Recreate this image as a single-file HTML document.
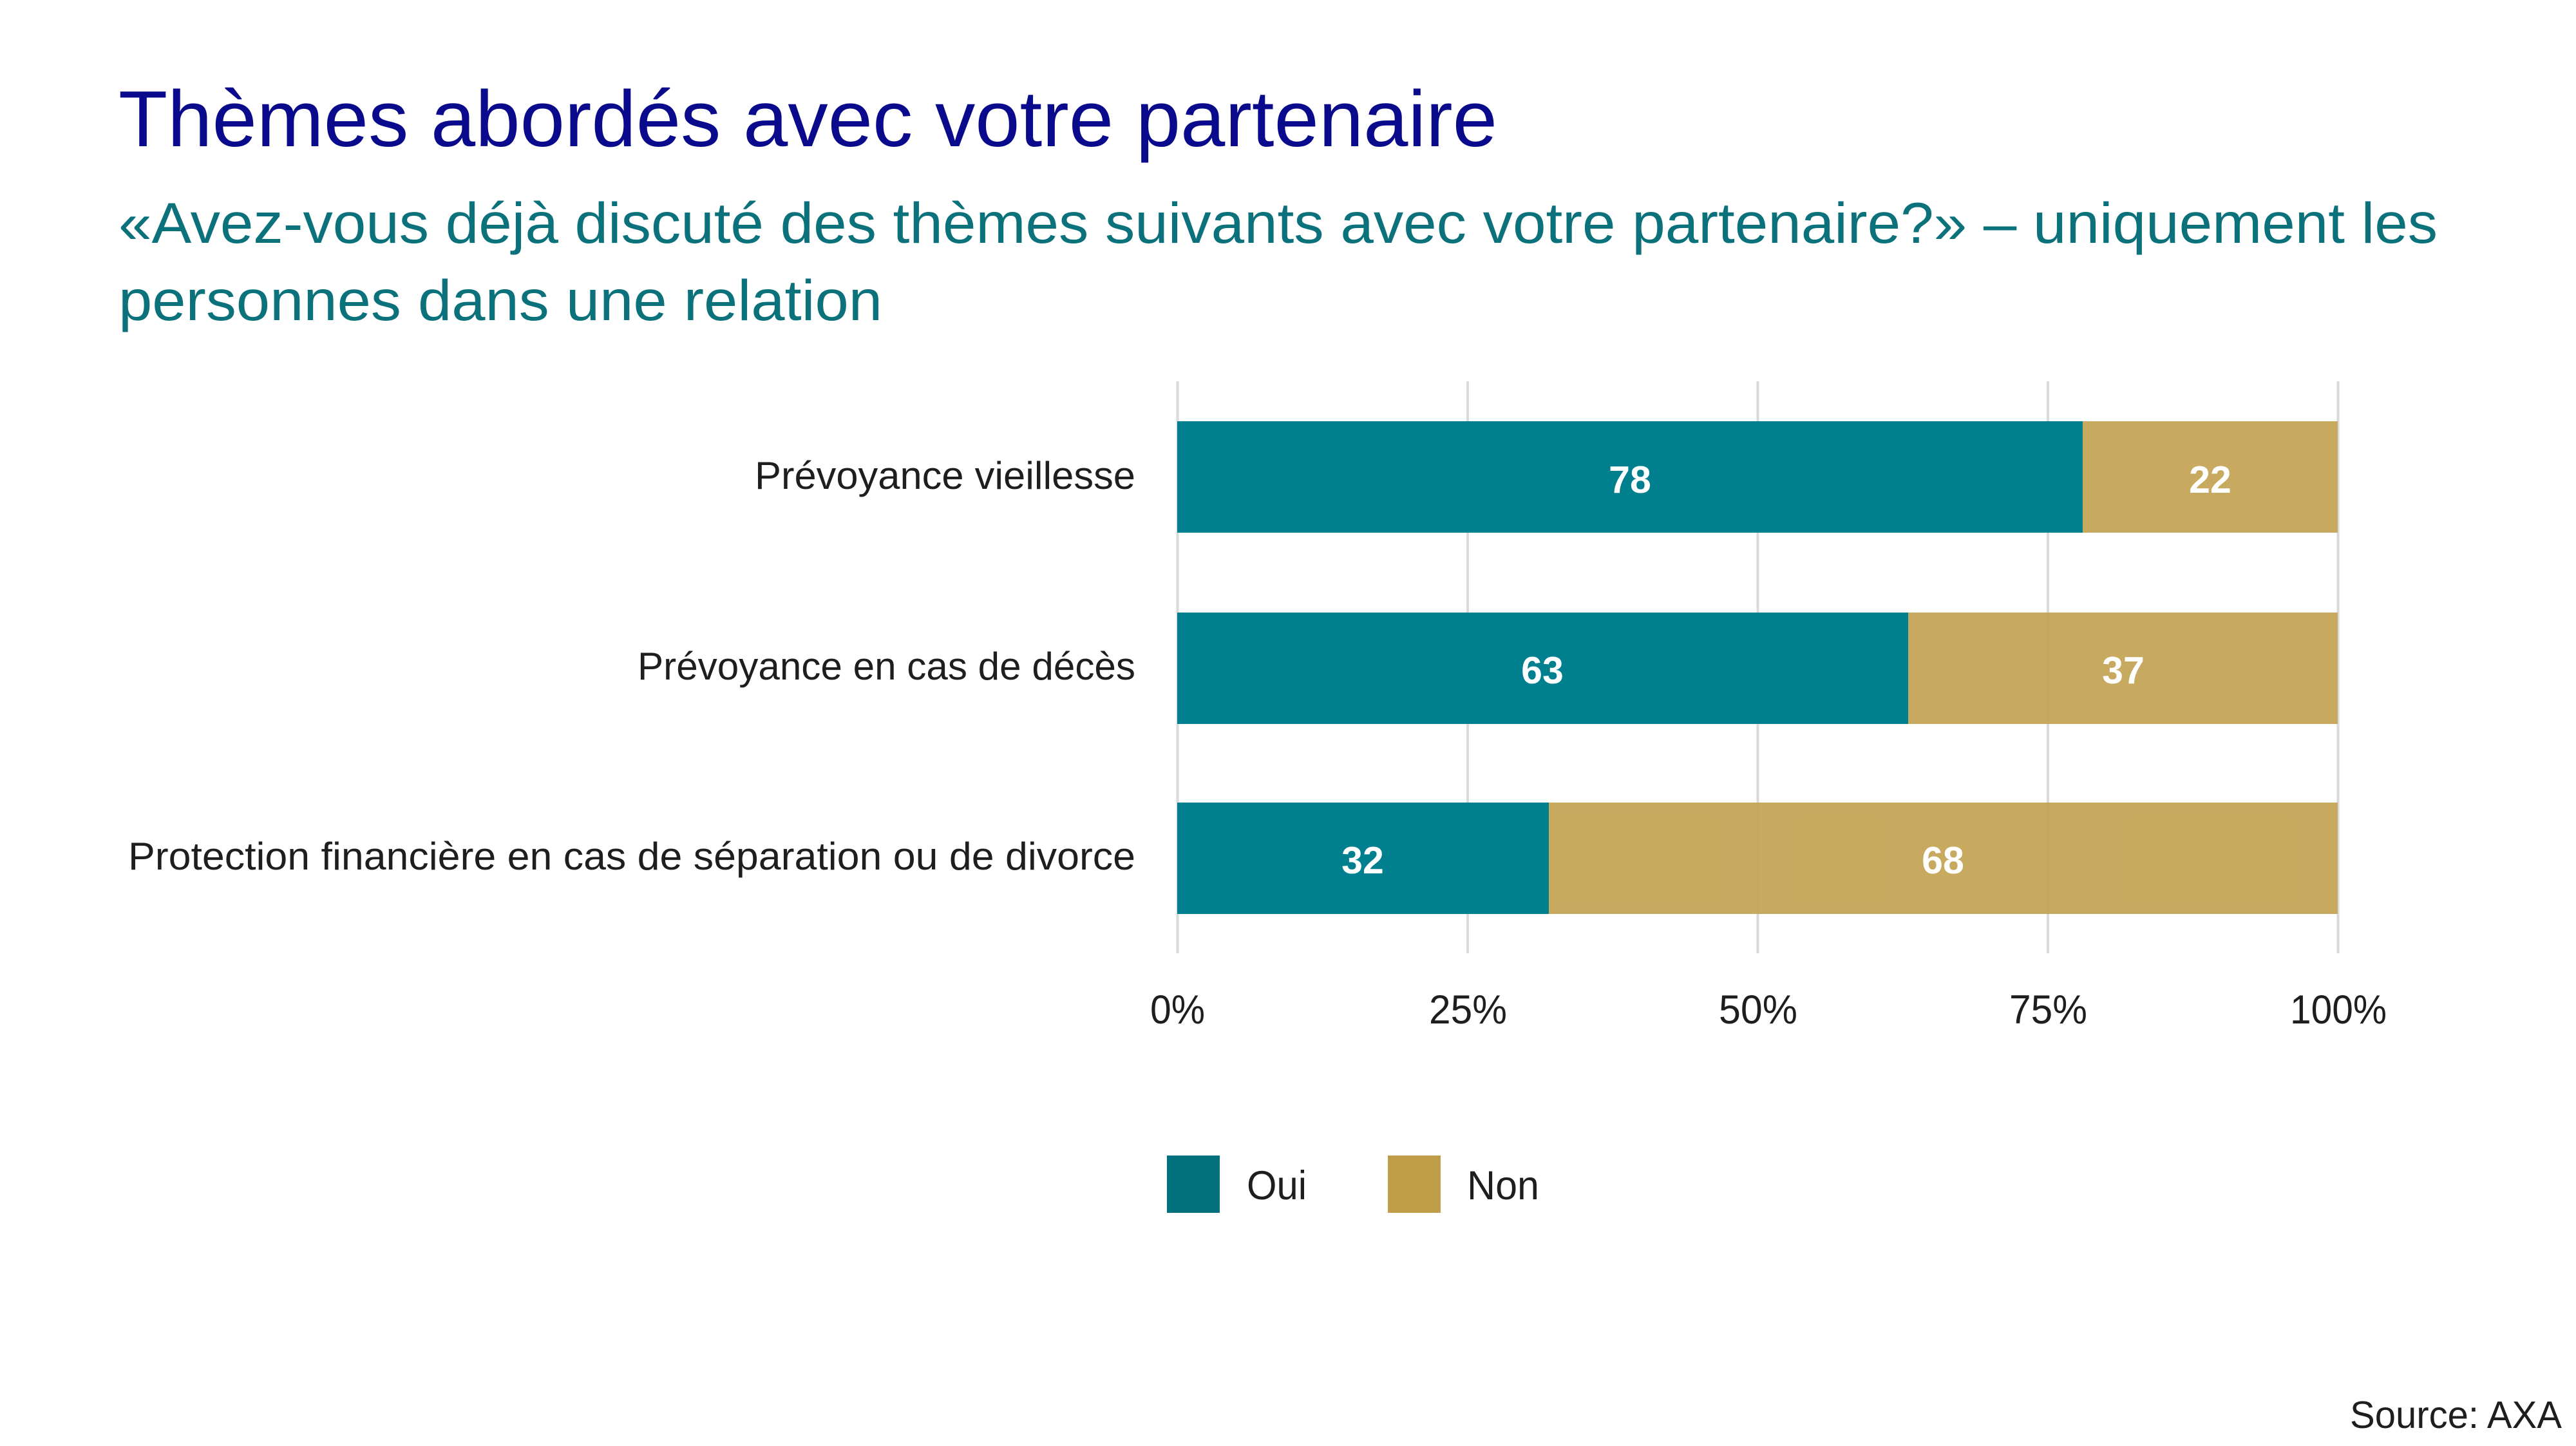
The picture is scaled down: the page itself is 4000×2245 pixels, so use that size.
<!DOCTYPE html>
<html>
<head>
<meta charset="utf-8">
<style>
  html, body { margin: 0; padding: 0; background: #ffffff; }
  svg { display: block; }
  text { font-family: "Liberation Sans", "DejaVu Sans", sans-serif; }
</style>
</head>
<body>
<svg width="4000" height="2245" viewBox="0 0 4000 2245" xmlns="http://www.w3.org/2000/svg">
  <rect x="0" y="0" width="4000" height="2245" fill="#ffffff"/>

  <!-- Title -->
  <text x="184" y="227" font-size="123" fill="#0a0a8c" textLength="2141" lengthAdjust="spacingAndGlyphs">Thèmes abordés avec votre partenaire</text>

  <!-- Subtitle -->
  <text x="184" y="377" font-size="89" fill="#0b717b" textLength="3601" lengthAdjust="spacingAndGlyphs">«Avez-vous déjà discuté des thèmes suivants avec votre partenaire?» – uniquement les</text>
  <text x="184" y="497" font-size="89" fill="#0b717b" textLength="1186" lengthAdjust="spacingAndGlyphs">personnes dans une relation</text>

  <!-- Grid lines -->
  <g stroke="#dadada" stroke-width="4">
    <line x1="1828.5" y1="592" x2="1828.5" y2="1480"/>
    <line x1="2279" y1="592" x2="2279" y2="1480"/>
    <line x1="2729.5" y1="592" x2="2729.5" y2="1480"/>
    <line x1="3180" y1="592" x2="3180" y2="1480"/>
    <line x1="3630.5" y1="592" x2="3630.5" y2="1480"/>
  </g>

  <!-- Bars row 1 -->
  <rect x="1828" y="654" width="1406" height="173" fill="#00808f"/>
  <rect x="3234" y="654" width="396" height="173" fill="#c4a556" fill-opacity="0.95"/>
  <!-- Bars row 2 -->
  <rect x="1828" y="951" width="1135" height="173" fill="#00808f"/>
  <rect x="2963" y="951" width="667" height="173" fill="#c4a556" fill-opacity="0.95"/>
  <!-- Bars row 3 -->
  <rect x="1828" y="1246" width="577" height="173" fill="#00808f"/>
  <rect x="2405" y="1246" width="1225" height="173" fill="#c4a556" fill-opacity="0.95"/>

  <!-- Value labels -->
  <g font-size="59" font-weight="bold" fill="#ffffff" text-anchor="middle">
    <text x="2531" y="765">78</text>
    <text x="3432" y="765">22</text>
    <text x="2395" y="1061">63</text>
    <text x="3297" y="1061">37</text>
    <text x="2116" y="1356">32</text>
    <text x="3017" y="1356">68</text>
  </g>

  <!-- Category labels -->
  <g font-size="60" fill="#1e1e1e">
    <text x="1172" y="759" textLength="591" lengthAdjust="spacingAndGlyphs">Prévoyance vieillesse</text>
    <text x="990" y="1055" textLength="773" lengthAdjust="spacingAndGlyphs">Prévoyance en cas de décès</text>
    <text x="199" y="1350" textLength="1564" lengthAdjust="spacingAndGlyphs">Protection financière en cas de séparation ou de divorce</text>
  </g>

  <!-- Tick labels -->
  <g font-size="63" fill="#1e1e1e">
    <text x="1786" y="1589" textLength="85" lengthAdjust="spacingAndGlyphs">0%</text>
    <text x="2219" y="1589" textLength="121" lengthAdjust="spacingAndGlyphs">25%</text>
    <text x="2669" y="1589" textLength="122" lengthAdjust="spacingAndGlyphs">50%</text>
    <text x="3120" y="1589" textLength="121" lengthAdjust="spacingAndGlyphs">75%</text>
    <text x="3556" y="1589" textLength="150" lengthAdjust="spacingAndGlyphs">100%</text>
  </g>

  <!-- Legend -->
  <rect x="1812" y="1794" width="82" height="89" fill="#00707c"/>
  <text x="1936" y="1862" font-size="63" fill="#1e1e1e" textLength="93" lengthAdjust="spacingAndGlyphs">Oui</text>
  <rect x="2155" y="1794" width="82" height="89" fill="#bf9c48"/>
  <text x="2278" y="1862" font-size="63" fill="#1e1e1e" textLength="112" lengthAdjust="spacingAndGlyphs">Non</text>

  <!-- Source -->
  <text x="3649" y="2217" font-size="59" fill="#1e1e1e" textLength="329" lengthAdjust="spacingAndGlyphs">Source: AXA</text>
</svg>
</body>
</html>
